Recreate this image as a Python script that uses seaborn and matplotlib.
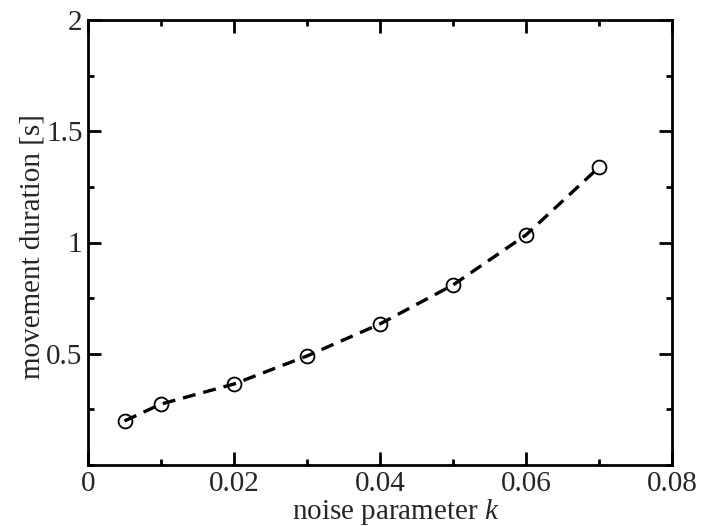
import matplotlib
matplotlib.use("Agg")
import matplotlib.pyplot as plt
import seaborn as sns
import pandas as pd
from matplotlib.ticker import MultipleLocator

k_values = [0.005, 0.01, 0.02, 0.03, 0.04, 0.05, 0.06, 0.07]
duration = [0.198, 0.274, 0.364, 0.490, 0.634, 0.809, 1.034, 1.338]
x_ticks = [0, 0.02, 0.04, 0.06, 0.08]
x_tick_labels = ["0", "0.02", "0.04", "0.06", "0.08"]
y_ticks = [0.5, 1, 1.5, 2]
y_tick_labels = ["0.5", "1", "1.5", "2"]

sns.set_style("ticks")
plt.rcParams['font.family'] = ['Liberation Serif', 'DejaVu Serif']
plt.rcParams['mathtext.fontset'] = 'custom'
plt.rcParams['mathtext.it'] = 'Liberation Serif:italic'
plt.rcParams['mathtext.rm'] = 'Liberation Serif'

df = pd.DataFrame({"k": k_values, "d": duration})

fig = plt.figure(figsize=(7.02, 5.26), dpi=100)
ax = fig.add_axes([88/702, 61/526, 584/702, 445/526])

sns.lineplot(data=df, x="k", y="d", ax=ax, color="black", linewidth=2.4,
             marker="o", markersize=10, markerfacecolor="none",
             markeredgecolor="black", markeredgewidth=1.3)
ax.lines[0].set_dashes([3.9, 2.4])

ax.set_xlim(0, 0.08)
ax.set_ylim(0, 2)
ax.set_xticks(x_ticks)
ax.set_xticklabels(x_tick_labels)
ax.set_yticks(y_ticks)
ax.set_yticklabels(y_tick_labels)
ax.xaxis.set_minor_locator(MultipleLocator(0.01))
ax.yaxis.set_minor_locator(MultipleLocator(0.25))

for s in ax.spines.values():
    s.set_visible(True)
    s.set_linewidth(2)
    s.set_color("black")

ax.tick_params(which="both", direction="in", top=True, right=True, width=2, color="black")
ax.tick_params(which="major", length=9.5, labelsize=21, pad=4)
ax.tick_params(which="minor", length=4.5)

ax.set_xlabel("noise parameter $k$", fontsize=21)
ax.set_ylabel("movement duration [s]", fontsize=21)
ax.xaxis.set_label_coords(0.527, -0.072, transform=ax.transAxes)
ax.xaxis.label.set_va("top")
ax.yaxis.set_label_coords(-0.072, 0.49, transform=ax.transAxes)

fig.savefig("out.png", dpi=100)
